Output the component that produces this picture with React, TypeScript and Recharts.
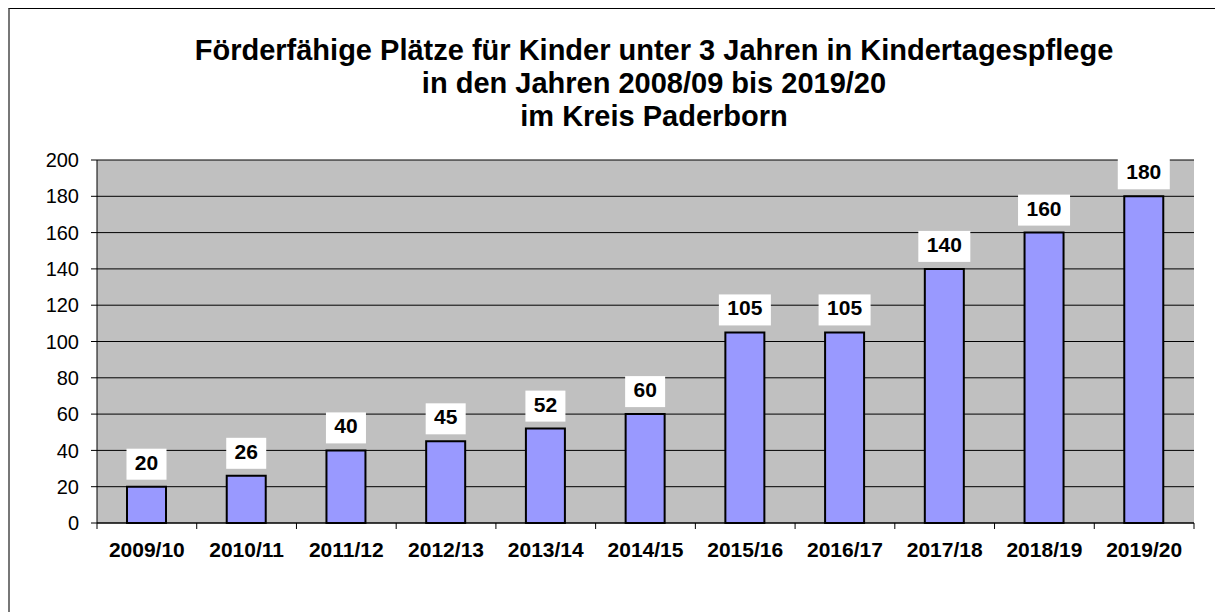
import { Bar, BarChart, CartesianGrid, LabelList, XAxis, YAxis } from "recharts";

const SEASONS = [
  "2009/10",
  "2010/11",
  "2011/12",
  "2012/13",
  "2013/14",
  "2014/15",
  "2015/16",
  "2016/17",
  "2017/18",
  "2018/19",
  "2019/20",
];

const PLACES = [20, 26, 40, 45, 52, 60, 105, 105, 140, 160, 180];

const Y_TICKS = [0, 20, 40, 60, 80, 100, 120, 140, 160, 180, 200];

const TITLE_LINES = [
  "Förderfähige Plätze für Kinder unter 3 Jahren in Kindertagespflege",
  "in den Jahren 2008/09 bis 2019/20",
  "im Kreis Paderborn",
];

const FONT = '"Liberation Sans", Arial, sans-serif';
const CHART_WIDTH = 1213;
const CHART_HEIGHT = 603;
const MARGIN = { top: 151, right: 29, bottom: 49, left: 27 };
const Y_AXIS_WIDTH = 60;
const PLOT_WIDTH = CHART_WIDTH - MARGIN.left - MARGIN.right - Y_AXIS_WIDTH;

const data = SEASONS.map((season, index) => ({ season, places: PLACES[index] }));

function SeasonTick(props: any) {
  const { x, y, payload, index } = props;
  const half = payload?.offset || PLOT_WIDTH / SEASONS.length / 2;
  const isLast = index === SEASONS.length - 1;

  return (
    <g>
      <line x1={x - half} y1={y} x2={x - half} y2={y + 6} stroke="#000" />
      {isLast && <line x1={x + half} y1={y} x2={x + half} y2={y + 6} stroke="#000" />}
      <text
        x={x}
        y={y + 34}
        textAnchor="middle"
        fontFamily={FONT}
        fontSize={21}
        fontWeight="bold"
        fill="#000"
      >
        {payload.value}
      </text>
    </g>
  );
}

function ValueBox(props: any) {
  const { x, y, width, value } = props;
  const text = String(value);
  const boxWidth = 16 + text.length * 12;
  const boxHeight = 31;
  const centerX = x + width / 2;
  const bottom = y - 7;

  return (
    <g>
      <rect x={centerX - boxWidth / 2} y={bottom - boxHeight} width={boxWidth} height={boxHeight} fill="#fff" />
      <text
        x={centerX}
        y={bottom - 10}
        textAnchor="middle"
        fontFamily={FONT}
        fontSize={21}
        fontWeight="bold"
        fill="#000"
      >
        {text}
      </text>
    </g>
  );
}

export default function App() {
  return (
    <div
      style={{
        position: "relative",
        width: CHART_WIDTH,
        height: CHART_HEIGHT,
        borderTop: "1px solid #000",
        borderLeft: "2px solid #777",
        background: "#fff",
        fontFamily: FONT,
      }}
    >
      <div
        style={{
          position: "absolute",
          top: 25,
          left: 644,
          transform: "translateX(-50%)",
          whiteSpace: "nowrap",
          textAlign: "center",
          fontSize: 29,
          fontWeight: "bold",
          lineHeight: "33px",
          color: "#000",
        }}
      >
        {TITLE_LINES.map((line) => (
          <div key={line}>{line}</div>
        ))}
      </div>

      <BarChart width={CHART_WIDTH} height={CHART_HEIGHT} data={data} margin={MARGIN} barCategoryGap="29%">
        <CartesianGrid yAxisId="left" fill="#C0C0C0" vertical={false} stroke="#000" />
        <XAxis
          dataKey="season"
          height={40}
          tickLine={false}
          tickSize={0}
          tickMargin={0}
          axisLine={{ stroke: "#000" }}
          tick={<SeasonTick />}
          interval={0}
        />
        <YAxis
          yAxisId="left"
          domain={[0, 200]}
          ticks={Y_TICKS}
          width={Y_AXIS_WIDTH}
          tickSize={6}
          tickMargin={12}
          axisLine={{ stroke: "#000" }}
          tickLine={{ stroke: "#000" }}
          tick={{ fontFamily: FONT, fontSize: 20, fill: "#000" }}
        />
        <YAxis
          yAxisId="right"
          orientation="right"
          domain={[0, 200]}
          width={0}
          tick={false}
          tickLine={false}
          axisLine={{ stroke: "#888" }}
        />
        <Bar
          yAxisId="left"
          dataKey="places"
          fill="#9999FF"
          stroke="#000"
          strokeWidth={2}
          barSize={39}
          isAnimationActive={false}
        >
          <LabelList dataKey="places" content={<ValueBox />} />
        </Bar>
      </BarChart>
    </div>
  );
}
